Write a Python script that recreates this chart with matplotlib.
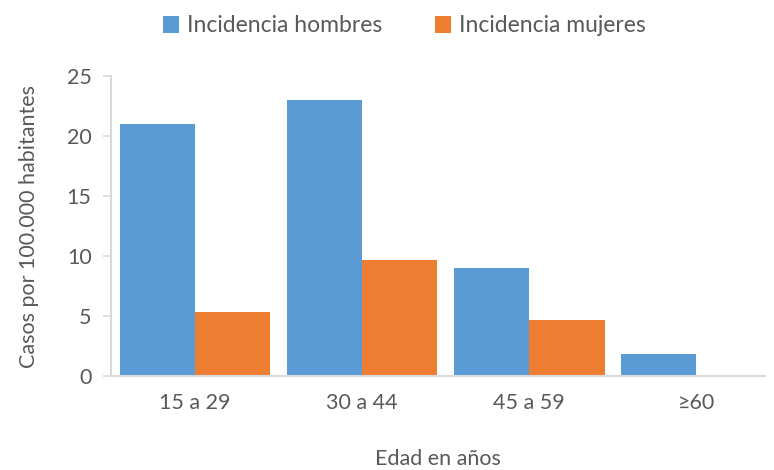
import matplotlib.pyplot as plt
import numpy as np

categories = ["15 a 29", "30 a 44", "45 a 59", "≥60"]
hombres = [21, 23, 9, 1.8]
mujeres = [5.3, 9.7, 4.7, 0]
series_labels = ["Incidencia hombres", "Incidencia mujeres"]
y_ticks = [0, 5, 10, 15, 20, 25]

blue = "#5b9bd5"
orange = "#ed7d31"
text_color = "#595959"
axis_color = "#d9d9d9"

plt.rcParams["font.family"] = ["Lato", "DejaVu Sans"]

fig = plt.figure(figsize=(7.74, 4.70), dpi=100)
ax = fig.add_axes([111 / 774, 1 - 376 / 470, (765 - 111) / 774, 300 / 470])

x = np.arange(len(categories))
width = 0.45
ax.bar(x - width / 2, hombres, width, color=blue, label=series_labels[0])
ax.bar(x + width / 2, mujeres, width, color=orange, label=series_labels[1])

ax.set_xlim(-0.503, 3.41)
ax.set_ylim(0, 25)
ax.set_yticks(y_ticks)
ax.set_xticks(x)
ax.set_xticklabels(categories)

for side in ["top", "right"]:
    ax.spines[side].set_visible(False)
ax.spines["left"].set_color(axis_color)
ax.spines["bottom"].set_color(axis_color)
ax.spines["left"].set_linewidth(1.5)
ax.spines["bottom"].set_linewidth(1.5)

ax.tick_params(axis="y", colors=axis_color, labelcolor=text_color,
               labelsize=15.5, length=6, width=1.2, pad=8)
ax.tick_params(axis="x", length=0, labelcolor=text_color,
               labelsize=15.5, pad=12)

ax.set_ylabel("Casos por 100.000 habitantes", color=text_color,
              fontsize=15.5, labelpad=20)
ax.set_xlabel("Edad en años", color=text_color, fontsize=15.5, labelpad=26)

fig.legend(loc="center", bbox_to_anchor=(0.522, 1 - 26 / 470), ncol=2,
           frameon=False, fontsize=16.5, labelcolor=text_color,
           handlelength=0.7, handleheight=0.7, handletextpad=0.35,
           columnspacing=2.3)

plt.savefig("out.png", dpi=100)
plt.close()
